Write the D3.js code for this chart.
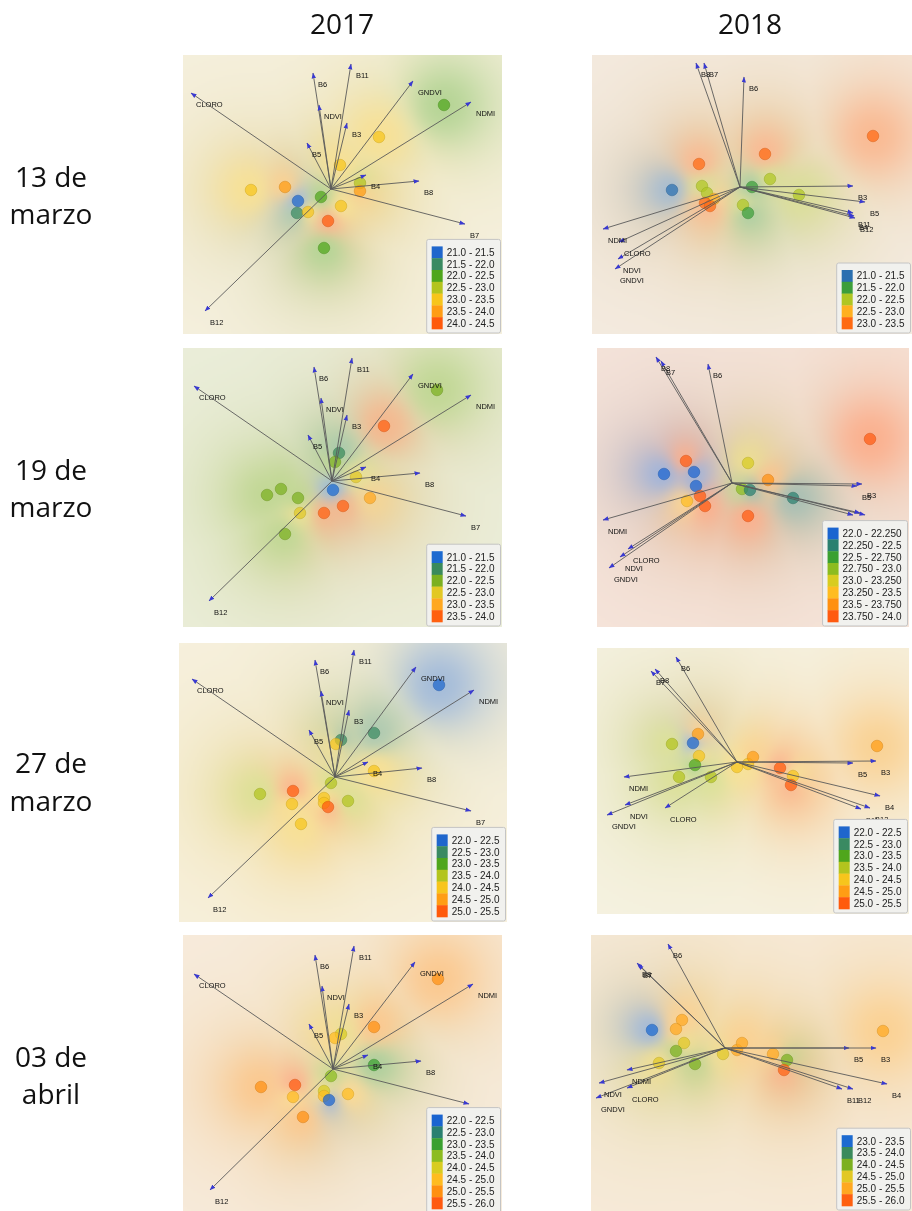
<!DOCTYPE html>
<html>
<head>
<meta charset="utf-8">
<script src="https://cdn.jsdelivr.net/npm/d3@7"></script>
<style>
  body { margin: 0; background: #fff; }
  #wrap { position: relative; width: 912px; height: 1211px; overflow: hidden; }
  #wrap canvas, #wrap svg { position: absolute; left: 0; top: 0; }
</style>
</head>
<body>
<div id="wrap"></div>
<script>
// ---------- labels ----------
const years = ["2017", "2018"];
const dates = [["13 de", "marzo"], ["19 de", "marzo"], ["27 de", "marzo"], ["03 de", "abril"]];

// ---------- 2017 · 13 de marzo ----------
const ext_2017_0313 = [[-1.48, 1.71], [-1.45, 1.34]];
const load_2017_0313 = [
  ["CLORO", -1.40, 0.96], ["B6", -0.18, 1.16], ["B11", 0.20, 1.25], ["NDVI", -0.12, 0.84],
  ["B3", 0.16, 0.66], ["B5", -0.24, 0.46], ["GNDVI", 0.82, 1.08], ["NDMI", 1.40, 0.87],
  ["B4", 0.35, 0.14], ["B8", 0.88, 0.08], ["B7", 1.34, -0.35], ["B12", -1.26, -1.22]];
const sites_2017_0313 = [
  [-0.80, -0.01, 23.2], [-0.46, 0.02, 23.7], [-0.33, -0.12, 21.2], [-0.34, -0.24, 21.7],
  [-0.23, -0.23, 23.2], [-0.10, -0.08, 22.2], [0.09, 0.24, 23.2], [0.48, 0.52, 23.3],
  [1.13, 0.84, 22.3], [0.29, 0.06, 22.7], [0.29, -0.02, 23.7], [0.10, -0.17, 23.2],
  [-0.03, -0.32, 24.2], [-0.07, -0.59, 22.2]];
const edges_2017_0313 = [21.0, 21.5, 22.0, 22.5, 23.0, 23.5, 24.0, 24.5];
const ticks_2017_0313 = ["21.0 - 21.5", "21.5 - 22.0", "22.0 - 22.5", "22.5 - 23.0",
  "23.0 - 23.5", "23.5 - 24.0", "24.0 - 24.5"];

// ---------- 2018 · 13 de marzo ----------
const ext_2018_0313 = [[-1.48, 1.72], [-1.47, 1.32]];
const load_2018_0313 = [
  ["B8", -0.44, 1.24], ["B7", -0.36, 1.24], ["B6", 0.04, 1.10], ["B3", 1.13, 0.01],
  ["B5", 1.25, -0.15], ["B11", 1.13, -0.26], ["B4", 1.14, -0.29], ["B12", 1.15, -0.31],
  ["NDMI", -1.37, -0.42], ["CLORO", -1.21, -0.55], ["NDVI", -1.22, -0.72], ["GNDVI", -1.25, -0.82]];
const sites_2018_0313 = [
  [1.33, 0.51, 23.2], [0.25, 0.33, 23.2], [-0.41, 0.23, 23.2], [-0.68, -0.03, 21.2],
  [-0.38, 0.01, 22.2], [-0.33, -0.06, 22.2], [-0.26, -0.12, 22.7], [-0.35, -0.16, 23.2],
  [-0.30, -0.19, 23.2], [0.12, 0.00, 21.7], [0.30, 0.08, 22.2], [0.59, -0.08, 22.2],
  [0.03, -0.18, 22.2], [0.08, -0.26, 21.7]];
const edges_2018_0313 = [21.0, 21.5, 22.0, 22.5, 23.0, 23.5];
const ticks_2018_0313 = ["21.0 - 21.5", "21.5 - 22.0", "22.0 - 22.5", "22.5 - 23.0", "23.0 - 23.5"];

// ---------- 2017 · 19 de marzo ----------
const ext_2017_0319 = [[-1.49, 1.70], [-1.46, 1.33]];
const load_2017_0319 = [
  ["CLORO", -1.38, 0.95], ["B6", -0.18, 1.14], ["B11", 0.20, 1.23], ["NDVI", -0.11, 0.83],
  ["B3", 0.15, 0.66], ["B5", -0.24, 0.46], ["GNDVI", 0.81, 1.07], ["NDMI", 1.39, 0.86],
  ["B4", 0.34, 0.14], ["B8", 0.88, 0.08], ["B7", 1.34, -0.35], ["B12", -1.23, -1.20]];
const sites_2017_0319 = [
  [1.05, 0.91, 22.2], [0.52, 0.55, 23.7], [0.07, 0.28, 21.7], [0.03, 0.19, 22.2],
  [0.24, 0.04, 22.7], [0.01, -0.09, 21.2], [0.38, -0.17, 23.2], [0.11, -0.25, 23.7],
  [-0.08, -0.32, 23.7], [-0.32, -0.32, 22.7], [-0.34, -0.17, 22.2], [-0.51, -0.08, 22.2],
  [-0.65, -0.14, 22.2], [-0.47, -0.53, 22.2]];
const edges_2017_0319 = [21.0, 21.5, 22.0, 22.5, 23.0, 23.5, 24.0];
const ticks_2017_0319 = ["21.0 - 21.5", "21.5 - 22.0", "22.0 - 22.5", "22.5 - 23.0",
  "23.0 - 23.5", "23.5 - 24.0"];

// ---------- 2018 · 19 de marzo ----------
const ext_2018_0319 = [[-1.35, 1.77], [-1.44, 1.35]];
const load_2018_0319 = [
  ["B8", -0.76, 1.26], ["B7", -0.71, 1.22], ["B6", -0.24, 1.19], ["B3", 1.30, -0.01],
  ["B5", 1.25, -0.03], ["B11", 1.21, -0.32], ["B4", 1.33, -0.32], ["B12", 1.28, -0.30],
  ["NDMI", -1.29, -0.37], ["CLORO", -1.04, -0.66], ["NDVI", -1.12, -0.74], ["GNDVI", -1.23, -0.85]];
const sites_2018_0319 = [
  [1.38, 0.44, 23.9], [-0.46, 0.22, 23.9], [0.16, 0.20, 23.1], [-0.68, 0.09, 22.1],
  [-0.38, 0.11, 22.1], [-0.36, -0.03, 22.1], [0.36, 0.03, 23.6], [0.10, -0.06, 22.9],
  [0.18, -0.07, 22.4], [0.61, -0.15, 22.4], [-0.32, -0.13, 23.9], [-0.45, -0.18, 23.4],
  [-0.27, -0.23, 23.9], [0.16, -0.33, 23.9]];
const edges_2018_0319 = [22.0, 22.25, 22.5, 22.75, 23.0, 23.25, 23.5, 23.75, 24.0];
const ticks_2018_0319 = ["22.0 - 22.250", "22.250 - 22.5", "22.5 - 22.750", "22.750 - 23.0",
  "23.0 - 23.250", "23.250 - 23.5", "23.5 - 23.750", "23.750 - 24.0"];

// ---------- 2017 · 27 de marzo ----------
const ext_2017_0327 = [[-1.56, 1.72], [-1.45, 1.34]];
const load_2017_0327 = [
  ["CLORO", -1.43, 0.98], ["B6", -0.20, 1.17], ["B11", 0.19, 1.27], ["NDVI", -0.14, 0.86],
  ["B3", 0.14, 0.67], ["B5", -0.26, 0.47], ["GNDVI", 0.81, 1.10], ["NDMI", 1.39, 0.87],
  ["B4", 0.33, 0.15], ["B8", 0.87, 0.09], ["B7", 1.36, -0.34], ["B12", -1.27, -1.21]];
const sites_2017_0327 = [
  [1.04, 0.92, 22.2], [0.39, 0.44, 22.7], [0.06, 0.37, 22.7], [0.01, 0.33, 24.2],
  [0.39, 0.06, 24.2], [-0.04, -0.06, 23.7], [-0.75, -0.17, 23.7], [-0.42, -0.14, 25.2],
  [-0.43, -0.27, 24.2], [-0.11, -0.21, 24.2], [-0.11, -0.26, 24.4], [-0.07, -0.30, 25.2],
  [0.13, -0.24, 23.7], [-0.34, -0.47, 24.2]];
const edges_2017_0327 = [22.0, 22.5, 23.0, 23.5, 24.0, 24.5, 25.0, 25.5];
const ticks_2017_0327 = ["22.0 - 22.5", "22.5 - 23.0", "23.0 - 23.5", "23.5 - 24.0",
  "24.0 - 24.5", "24.5 - 25.0", "25.0 - 25.5"];

// ---------- 2018 · 27 de marzo ----------
const ext_2018_0327 = [[-1.40, 1.72], [-1.52, 1.14]];
const load_2018_0327 = [
  ["B6", -0.61, 1.05], ["B8", -0.82, 0.93], ["B7", -0.86, 0.91], ["B5", 1.16, -0.01],
  ["B3", 1.39, 0.01], ["B4", 1.43, -0.34], ["B11", 1.24, -0.47], ["B12", 1.33, -0.46],
  ["NDMI", -1.13, -0.15], ["NDVI", -1.12, -0.43], ["GNDVI", -1.30, -0.53], ["CLORO", -0.72, -0.46]];
const sites_2018_0327 = [
  [1.40, 0.16, 24.7], [-0.39, 0.28, 24.7], [-0.65, 0.18, 23.7], [-0.44, 0.19, 22.2],
  [-0.38, 0.06, 24.2], [-0.42, -0.03, 23.2], [-0.58, -0.15, 23.7], [-0.26, -0.15, 23.7],
  [0.00, -0.05, 24.2], [0.11, -0.02, 24.2], [0.16, 0.05, 24.7], [0.43, -0.06, 25.2],
  [0.56, -0.14, 24.2], [0.54, -0.23, 25.2]];
const edges_2018_0327 = [22.0, 22.5, 23.0, 23.5, 24.0, 24.5, 25.0, 25.5];
const ticks_2018_0327 = ["22.0 - 22.5", "22.5 - 23.0", "23.0 - 23.5", "23.5 - 24.0",
  "24.0 - 24.5", "24.5 - 25.0", "25.0 - 25.5"];

// ---------- 2017 · 03 de abril ----------
const ext_2017_0403 = [[-1.50, 1.69], [-1.45, 1.34]];
const load_2017_0403 = [
  ["CLORO", -1.39, 0.95], ["B6", -0.18, 1.14], ["B11", 0.21, 1.23], ["NDVI", -0.11, 0.83],
  ["B3", 0.16, 0.65], ["B5", -0.24, 0.45], ["GNDVI", 0.82, 1.07], ["NDMI", 1.40, 0.85],
  ["B4", 0.35, 0.14], ["B8", 0.88, 0.08], ["B7", 1.36, -0.35], ["B12", -1.23, -1.21]];
const sites_2017_0403 = [
  [1.05, 0.90, 25.2], [0.41, 0.42, 25.2], [0.08, 0.35, 24.2], [0.02, 0.31, 24.7],
  [0.41, 0.04, 23.2], [-0.02, -0.07, 23.7], [-0.72, -0.18, 25.2], [-0.38, -0.16, 25.7],
  [-0.40, -0.28, 24.7], [-0.09, -0.22, 24.2], [-0.09, -0.27, 24.7], [-0.04, -0.31, 22.2],
  [0.15, -0.25, 24.7], [-0.30, -0.48, 25.2]];
const edges_2017_0403 = [22.0, 22.5, 23.0, 23.5, 24.0, 24.5, 25.0, 25.5, 26.0];
const ticks_2017_0403 = ["22.0 - 22.5", "22.5 - 23.0", "23.0 - 23.5", "23.5 - 24.0",
  "24.0 - 24.5", "24.5 - 25.0", "25.0 - 25.5", "25.5 - 26.0"];

// ---------- 2018 · 03 de abril ----------
const ext_2018_0403 = [[-1.34, 1.87], [-1.63, 1.13]];
const load_2018_0403 = [
  ["B6", -0.57, 1.04], ["B8", -0.88, 0.85], ["B7", -0.87, 0.835], ["B5", 1.24, 0.00],
  ["B3", 1.51, 0.00], ["B4", 1.62, -0.36], ["B11", 1.17, -0.41], ["B12", 1.28, -0.41],
  ["NDMI", -0.98, -0.22], ["NDVI", -1.26, -0.35], ["CLORO", -0.98, -0.40], ["GNDVI", -1.29, -0.50]];
const sites_2018_0403 = [
  [1.58, 0.17, 25.2], [-0.43, 0.28, 25.2], [-0.49, 0.19, 25.2], [-0.73, 0.18, 23.2],
  [-0.41, 0.05, 24.7], [-0.49, -0.03, 24.2], [-0.66, -0.15, 24.7], [-0.30, -0.16, 24.2],
  [-0.02, -0.06, 24.7], [0.12, -0.02, 25.2], [0.17, 0.05, 25.2], [0.48, -0.06, 25.2],
  [0.62, -0.12, 24.2], [0.59, -0.22, 25.7]];
const edges_2018_0403 = [23.0, 23.5, 24.0, 24.5, 25.0, 25.5, 26.0];
const ticks_2018_0403 = ["23.0 - 23.5", "23.5 - 24.0", "24.0 - 24.5", "24.5 - 25.0",
  "25.0 - 25.5", "25.5 - 26.0"];

// ---------- colour ramps and panel layout ----------
const ramp5 = ["#2a6fb0", "#3c9e3a", "#b0c622", "#ffb020", "#ff6a12"];
const ramp6 = ["#1c6ad0", "#3a8a5c", "#7cb020", "#e2c824", "#ffa820", "#ff6010"];
const ramp7 = ["#1f66cc", "#3a8a62", "#4fa61c", "#b3c41e", "#f7c51c", "#ff9d14", "#ff5a0c"];
const ramp8 = ["#1a64d0", "#2a8070", "#3aa030", "#8cbc20", "#d8cc20", "#ffbc20", "#ff9010", "#ff5a10"];

const panels = [
  { box: [183, 55, 319, 279],  ext: ext_2017_0313, load: load_2017_0313, sites: sites_2017_0313, edges: edges_2017_0313, ticks: ticks_2017_0313, ramp: ramp7, base: "#f7f2e2" },
  { box: [592, 55, 320, 279],  ext: ext_2018_0313, load: load_2018_0313, sites: sites_2018_0313, edges: edges_2018_0313, ticks: ticks_2018_0313, ramp: ramp5, base: "#f6ede4" },
  { box: [183, 348, 319, 279], ext: ext_2017_0319, load: load_2017_0319, sites: sites_2017_0319, edges: edges_2017_0319, ticks: ticks_2017_0319, ramp: ramp6, base: "#edf0de" },
  { box: [597, 348, 312, 279], ext: ext_2018_0319, load: load_2018_0319, sites: sites_2018_0319, edges: edges_2018_0319, ticks: ticks_2018_0319, ramp: ramp8, base: "#f8e7de" },
  { box: [179, 643, 328, 279], ext: ext_2017_0327, load: load_2017_0327, sites: sites_2017_0327, edges: edges_2017_0327, ticks: ticks_2017_0327, ramp: ramp7, base: "#f8f2e1" },
  { box: [597, 648, 312, 266], ext: ext_2018_0327, load: load_2018_0327, sites: sites_2018_0327, edges: edges_2018_0327, ticks: ticks_2018_0327, ramp: ramp7, base: "#f7f4e6" },
  { box: [183, 935, 319, 279], ext: ext_2017_0403, load: load_2017_0403, sites: sites_2017_0403, edges: edges_2017_0403, ticks: ticks_2017_0403, ramp: ramp8, base: "#f8ede0" },
  { box: [591, 935, 321, 276], ext: ext_2018_0403, load: load_2018_0403, sites: sites_2018_0403, edges: edges_2018_0403, ticks: ticks_2018_0403, ramp: ramp6, base: "#f8ecdd" }
];

const W = 912, H = 1211;
const wrap = d3.select("#wrap");
const canvas = wrap.append("canvas").attr("width", W).attr("height", H).node();
const ctx = canvas.getContext("2d");
const svg = wrap.append("svg").attr("width", W).attr("height", H);

// arrowhead used at the tip of every loading vector
svg.append("defs").append("marker")
  .attr("id", "tip").attr("viewBox", "0 -3 6 6")
  .attr("refX", 5.5).attr("refY", 0)
  .attr("markerWidth", 6).attr("markerHeight", 6)
  .attr("markerUnits", "userSpaceOnUse")
  .attr("orient", "auto")
  .append("path").attr("d", "M0,-2.2L6,0L0,2.2Z").attr("fill", "#3a3ad0");

// column titles
const colCenters = [342, 750];
svg.selectAll("text.year").data(years).join("text")
  .attr("class", "year")
  .attr("x", (d, i) => colCenters[i]).attr("y", 34)
  .attr("text-anchor", "middle")
  .style("font-family", "'Open Sans', sans-serif").style("font-size", "28px").attr("fill", "#111")
  .text(d => d);

// row labels
const rowBase = [186.7, 479.5, 773, 1066.7];
dates.forEach((lines, r) => {
  lines.forEach((t, k) => {
    svg.append("text")
      .attr("x", 51).attr("y", rowBase[r] + k * 37.5)
      .attr("text-anchor", "middle")
      .style("font-family", "'Open Sans', sans-serif").style("font-size", "28px").attr("fill", "#111")
      .text(t);
  });
});

// interpolated temperature surface behind each biplot
function paintSurface(p, xs, ys, color) {
  const [bx, by, bw, bh] = p.box;
  const pad = 16, step = 2;
  const off = document.createElement("canvas");
  off.width = bw + 2 * pad; off.height = bh + 2 * pad;
  const oc = off.getContext("2d");
  const base = d3.rgb(p.base);
  const pts = p.sites.map(s => ({ x: xs(s[0]), y: ys(s[1]), c: d3.rgb(color(s[2])) }));
  const amax = 0.38, sigma = 52;
  for (let gy = 0; gy < off.height; gy += step) {
    for (let gx = 0; gx < off.width; gx += step) {
      const X = bx - pad + gx + step / 2, Y = by - pad + gy + step / 2;
      let ws = 0, r = 0, g = 0, b = 0, dmin = 1e9;
      for (const q of pts) {
        const dx = X - q.x, dy = Y - q.y, d2 = dx * dx + dy * dy;
        const d = Math.sqrt(d2);
        if (d < dmin) dmin = d;
        const w = 1 / Math.pow(d2 + 4, 1.7);
        ws += w; r += w * q.c.r; g += w * q.c.g; b += w * q.c.b;
      }
      r /= ws; g /= ws; b /= ws;
      const a = amax / (1 + Math.pow(dmin / sigma, 2.2));
      const R = base.r * (1 - a) + r * a, G = base.g * (1 - a) + g * a, B = base.b * (1 - a) + b * a;
      oc.fillStyle = `rgb(${R | 0},${G | 0},${B | 0})`;
      oc.fillRect(gx, gy, step, step);
    }
  }
  ctx.save();
  ctx.beginPath(); ctx.rect(bx, by, bw, bh); ctx.clip();
  ctx.filter = "blur(4px)";
  ctx.drawImage(off, bx - pad, by - pad);
  ctx.restore();
}

function drawLegend(g, p, color) {
  const rowH = 11.8, sw = 11, padT = 7, padB = 4, padL = 5, gap = 4, padR = 6;
  const lg = g.append("g");
  const box = lg.append("rect").attr("fill", "#f1f1ee").attr("stroke", "#c4c4c4")
    .attr("stroke-width", 1).attr("rx", 2);
  const rows = lg.selectAll("g.row").data(p.ticks).join("g")
    .attr("class", "row")
    .attr("transform", (d, i) => `translate(${padL},${padT + i * rowH})`);
  rows.append("rect").attr("width", sw).attr("height", rowH + 0.3)
    .attr("fill", (d, i) => p.ramp[i]);
  const txt = rows.append("text").attr("x", sw + gap).attr("y", rowH / 2 + 3.5)
    .style("font-family", "'Liberation Sans', Arial, sans-serif").style("font-size", "10px")
    .attr("fill", "#222").text(d => d);
  let tw = 0;
  txt.each(function () { tw = Math.max(tw, this.getComputedTextLength()); });
  const bwid = padL + sw + gap + tw + padR;
  const bht = padT + p.ticks.length * rowH + padB;
  box.attr("width", bwid).attr("height", bht);
  const [bx, by, bw, bh] = p.box;
  lg.attr("transform", `translate(${bx + bw - 1.5 - bwid},${by + bh - 1 - bht})`);
}

panels.forEach(p => {
  const [bx, by, bw, bh] = p.box;
  const xs = d3.scaleLinear().domain(p.ext[0]).range([bx, bx + bw]);
  const ys = d3.scaleLinear().domain(p.ext[1]).range([by + bh, by]);
  const color = d3.scaleThreshold().domain(p.edges.slice(1, -1)).range(p.ramp);

  paintSurface(p, xs, ys, color);

  const g = svg.append("g");
  const clipId = "c" + bx + "_" + by;
  g.append("clipPath").attr("id", clipId).append("rect")
    .attr("x", bx).attr("y", by).attr("width", bw).attr("height", bh);
  const inner = g.append("g").attr("clip-path", `url(#${clipId})`);

  // sampling sites coloured by temperature class
  inner.selectAll("circle.site").data(p.sites).join("circle")
    .attr("class", "site")
    .attr("cx", d => xs(d[0])).attr("cy", d => ys(d[1])).attr("r", 5.8)
    .attr("fill", d => color(d[2])).attr("fill-opacity", 0.72)
    .attr("stroke", d => d3.color(color(d[2])).darker(0.5)).attr("stroke-opacity", 0.45)
    .attr("stroke-width", 1);

  // loading vectors
  inner.selectAll("line.vec").data(p.load).join("line")
    .attr("class", "vec")
    .attr("x1", xs(0)).attr("y1", ys(0))
    .attr("x2", d => xs(d[1])).attr("y2", d => ys(d[2]))
    .attr("stroke", "#5a5a5a").attr("stroke-width", 0.9)
    .attr("marker-end", "url(#tip)");

  inner.selectAll("text.vlab").data(p.load).join("text")
    .attr("class", "vlab")
    .attr("x", d => xs(d[1]) + 5).attr("y", d => ys(d[2]) + 13.5)
    .style("font-family", "'Liberation Sans', Arial, sans-serif").style("font-size", "7.5px")
    .attr("fill", "#111").text(d => d[0]);

  drawLegend(g, p, color);
});
</script>
</body>
</html>
